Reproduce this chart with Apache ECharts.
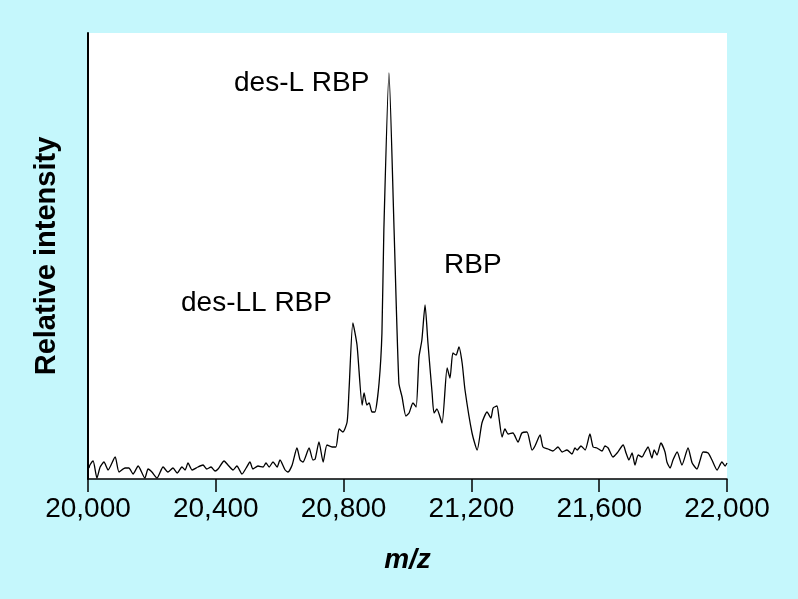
<!DOCTYPE html>
<html>
<head>
<meta charset="utf-8">
<script src="https://cdn.jsdelivr.net/npm/echarts@6/dist/echarts.min.js"></script>
<style>
	html, body { margin: 0; padding: 0; background: #c5f7fc; }
	#chart { width: 798px; height: 599px; }
</style>
</head>
<body>
<div id="chart"></div>
<script>
// m/z positions of the trace
var mzValues = [
	20003, 20006, 20016, 20028, 20038, 20050, 20063, 20085, 20097, 20116,
	20128, 20141, 20157, 20178, 20188, 20200, 20216, 20235, 20250, 20266,
	20279, 20294, 20304, 20313, 20326, 20344, 20360, 20372, 20385, 20398,
	20407, 20426, 20438, 20454, 20466, 20482, 20495, 20507, 20516, 20532,
	20548, 20557, 20567, 20579, 20592, 20601, 20617, 20626, 20639, 20654,
	20664, 20673, 20692, 20704, 20711, 20723, 20736, 20748, 20764, 20776,
	20786, 20798, 20811, 20817, 20829, 20842, 20858, 20864, 20873, 20880,
	20889, 20898, 20911, 20920, 20926, 20942, 20958, 20973, 20983, 20995,
	21005, 21017, 21027, 21036, 21045, 21055, 21064, 21077, 21083, 21092,
	21108, 21124, 21133, 21142, 21152, 21161, 21171, 21180, 21202, 21218,
	21233, 21249, 21261, 21268, 21280, 21286, 21296, 21305, 21315, 21330,
	21346, 21358, 21374, 21390, 21399, 21415, 21424, 21440, 21455, 21471,
	21484, 21499, 21515, 21524, 21531, 21543, 21556, 21571, 21581, 21593,
	21609, 21618, 21628, 21643, 21656, 21675, 21684, 21693, 21703, 21712,
	21722, 21734, 21743, 21753, 21765, 21772, 21781, 21793, 21806, 21812,
	21822, 21831, 21844, 21859, 21878, 21891, 21906, 21916, 21925, 21941,
	21953, 21969, 21984, 21994, 22000
];

// relative intensity (arbitrary units) at each m/z
var intensityValues = [
	11, 14, 18, 1, 12, 17, 9, 22, 7, 11,
	11, 5, 13, 1, 10, 7, 1, 12, 7, 11,
	6, 12, 9, 16, 9, 12, 14, 10, 12, 8,
	10, 18, 14, 9, 13, 5, 11, 17, 10, 13,
	12, 16, 12, 17, 12, 19, 9, 7, 14, 31,
	19, 17, 31, 19, 20, 37, 17, 34, 32, 32,
	50, 47, 57, 89, 156, 134, 74, 86, 74, 76,
	67, 67, 96, 146, 249, 406, 249, 96, 82, 63,
	66, 76, 72, 122, 139, 174, 136, 86, 66, 70,
	56, 111, 101, 126, 124, 132, 116, 89, 46, 29,
	56, 67, 61, 71, 73, 62, 42, 50, 45, 46,
	37, 46, 47, 29, 33, 44, 32, 30, 28, 32,
	27, 29, 25, 31, 29, 33, 29, 45, 32, 31,
	28, 33, 31, 22, 26, 34, 26, 19, 26, 14,
	24, 22, 27, 32, 21, 29, 24, 36, 27, 17,
	11, 19, 27, 14, 31, 16, 10, 19, 27, 26,
	19, 9, 17, 13, 16
];

var xMin = 20000;
var xMax = 22000;
var xStep = 400;
var yMax = 446;

var peakLabels = ['des-L RBP', 'RBP', 'des-LL RBP'];

var FONT = '"Liberation Sans", Arial, Helvetica, sans-serif';

function thousand(num) {
	return num.toString().replace(/\B(?=(\d{3})+$)/g, ',');
}

var seriesData = [];
for (var i = 0; i < mzValues.length; i++) {
	seriesData.push([mzValues[i], intensityValues[i]]);
}

var chart = echarts.init(document.getElementById('chart'));

var option = {
	backgroundColor: '#c5f7fc',
	animation: false,
	grid: {
		left: 88,
		right: 71,
		top: 33,
		bottom: 120,
		show: true,
		backgroundColor: '#ffffff',
		borderWidth: 0
	},
	xAxis: {
		type: 'value',
		min: xMin,
		max: xMax,
		interval: xStep,
		name: 'm/z',
		nameLocation: 'middle',
		nameGap: 67,
		nameTextStyle: {
			fontFamily: FONT,
			fontSize: 28,
			fontWeight: 'bold',
			fontStyle: 'italic',
			color: '#000'
		},
		axisLine: { lineStyle: { color: '#000', width: 1.5 } },
		axisTick: { length: 13, lineStyle: { color: '#000', width: 1.5 } },
		axisLabel: {
			margin: 16,
			fontFamily: FONT,
			fontSize: 28,
			color: '#000',
			formatter: function (val) { return thousand(val); }
		},
		splitLine: { show: false }
	},
	yAxis: {
		type: 'value',
		min: 0,
		max: yMax,
		name: 'Relative intensity',
		nameLocation: 'middle',
		nameGap: 27,
		nameTextStyle: {
			fontFamily: FONT,
			fontSize: 29,
			fontWeight: 'bold',
			color: '#000'
		},
		axisLine: { show: true, lineStyle: { color: '#000', width: 2 } },
		axisTick: { show: false },
		axisLabel: { show: false },
		splitLine: { show: false }
	},
	graphic: [
		{ type: 'text', left: 234, top: 69, style: { text: peakLabels[0], font: '28px ' + FONT, fill: '#000' } },
		{ type: 'text', left: 444, top: 251, style: { text: peakLabels[1], font: '28px ' + FONT, fill: '#000' } },
		{ type: 'text', left: 181, top: 289, style: { text: peakLabels[2], font: '28px ' + FONT, fill: '#000' } }
	],
	series: [{
		type: 'line',
		data: seriesData,
		showSymbol: false,
		symbol: 'none',
		smooth: 0.2,
		lineStyle: { color: '#000', width: 1.3 }
	}]
};

chart.setOption(option);
</script>
</body>
</html>
